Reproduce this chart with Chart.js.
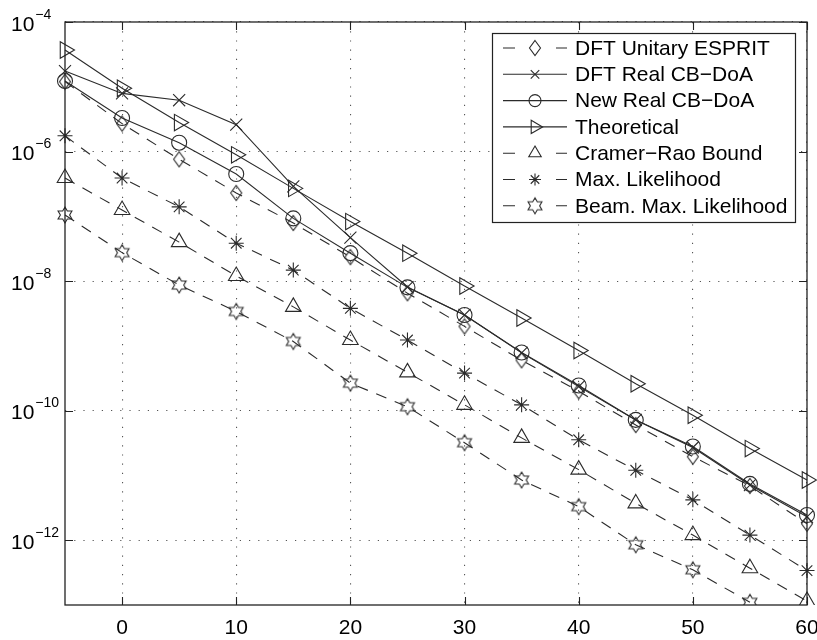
<!DOCTYPE html>
<html>
<head>
<meta charset="utf-8">
<script src="https://cdn.jsdelivr.net/npm/chart.js@4.4.0/dist/chart.umd.min.js"></script>
<style>
html,body{margin:0;padding:0;background:#fff;}
#wrap{width:817px;height:640px;position:relative;}
</style>
</head>
<body>
<div id="wrap"><canvas id="c" width="817" height="640"></canvas></div>
<script>
// ---------- data ----------
const snr = [-5, 0, 5, 10, 15, 20, 25, 30, 35, 40, 45, 50, 55, 60];
const xTicks = [0, 10, 20, 30, 40, 50, 60];
const yTickExps = [-12, -10, -8, -6, -4];
const seriesNames = ['DFT Unitary ESPRIT', 'DFT Real CB\u2212DoA', 'New Real CB\u2212DoA', 'Theoretical', 'Cramer\u2212Rao Bound', 'Max. Likelihood', 'Beam. Max. Likelihood'];
const dftUnitaryEsprit = [1.2e-5, 2.7e-6, 7.6e-7, 2.3e-7, 7.9e-8, 2.35e-8, 6.5e-9, 2.0e-9, 6.0e-10, 2.0e-10, 6.0e-11, 1.95e-11, 6.9e-12, 1.8e-12];
const dftRealCbDoa = [1.75e-5, 7.9e-6, 6.2e-6, 2.6e-6, 2.9e-7, 4.7e-8, 8.1e-9, 3.0e-9, 7.8e-10, 2.35e-10, 7.2e-11, 2.7e-11, 7.1e-12, 2.3e-12];
const newRealCbDoa = [1.23e-5, 3.3e-6, 1.37e-6, 4.5e-7, 9.3e-8, 2.7e-8, 8.0e-9, 3.0e-9, 7.9e-10, 2.45e-10, 7.2e-11, 2.8e-11, 7.4e-12, 2.45e-12];
const theoretical = [3.7e-5, 9.5e-6, 2.8e-6, 8.9e-7, 2.7e-7, 8.3e-8, 2.7e-8, 8.4e-9, 2.7e-9, 8.5e-10, 2.6e-10, 8.5e-11, 2.6e-11, 8.5e-12];
const cramerRao = [3.9e-7, 1.25e-7, 4.0e-8, 1.2e-8, 4.0e-9, 1.23e-9, 3.9e-10, 1.23e-10, 3.8e-11, 1.23e-11, 3.7e-12, 1.2e-12, 3.7e-13, 1.15e-13];
const maxLikelihood = [1.75e-6, 3.9e-7, 1.4e-7, 3.85e-8, 1.48e-8, 3.8e-9, 1.23e-9, 3.8e-10, 1.23e-10, 3.55e-11, 1.2e-11, 4.2e-12, 1.2e-12, 3.4e-13];
const beamMaxLikelihood = [1.05e-7, 2.75e-8, 8.7e-9, 3.4e-9, 1.17e-9, 2.66e-10, 1.15e-10, 3.2e-11, 8.5e-12, 3.3e-12, 8.5e-13, 3.5e-13, 1.1e-13, null];

// ---------- styles ----------
const LC = '#2b2b2b';
const FONT = '"Liberation Sans", Arial, Helvetica, sans-serif';

function makeDiamond() {
  const c = document.createElement('canvas');
  c.width = 14; c.height = 18;
  const g = c.getContext('2d');
  g.strokeStyle = LC; g.lineWidth = 1.1;
  g.beginPath();
  g.moveTo(7, 1.5); g.lineTo(12.5, 9); g.lineTo(7, 16.5); g.lineTo(1.5, 9); g.closePath();
  g.stroke();
  return c;
}
function makeHexagram() {
  const c = document.createElement('canvas');
  c.width = 20; c.height = 20;
  const g = c.getContext('2d');
  g.strokeStyle = LC; g.lineWidth = 1.1;
  const R = 8, r = R / Math.sqrt(3);
  g.beginPath();
  for (let i = 0; i < 12; i++) {
    const a = -Math.PI / 2 + i * Math.PI / 6;
    const rr = (i % 2 === 0) ? R : r;
    const px = 10 + rr * Math.cos(a), py = 10 + rr * Math.sin(a);
    if (i === 0) g.moveTo(px, py); else g.lineTo(px, py);
  }
  g.closePath();
  g.stroke();
  return c;
}
const diamondImg = makeDiamond();
const hexImg = makeHexagram();

const DASH = [11, 9];
const seriesData = [dftUnitaryEsprit, dftRealCbDoa, newRealCbDoa, theoretical, cramerRao, maxLikelihood, beamMaxLikelihood];
const seriesStyle = [
  {dash: true,  pointStyle: diamondImg, radius: 8, rotation: 0},
  {dash: false, pointStyle: 'crossRot', radius: 8.5, rotation: 0},
  {dash: false, pointStyle: 'circle', radius: 7.5, rotation: 0},
  {dash: false, pointStyle: 'triangle', radius: 9.5, rotation: 90},
  {dash: true,  pointStyle: 'triangle', radius: 9, rotation: 0},
  {dash: true,  pointStyle: 'star', radius: 7.5, rotation: 0},
  {dash: true,  pointStyle: hexImg, radius: 8, rotation: 0}
];

const datasets = seriesData.map((arr, i) => ({
  label: seriesNames[i],
  data: snr.map((x, k) => ({x: x, y: arr[k]})),
  borderColor: LC,
  borderWidth: 1.1,
  borderDash: seriesStyle[i].dash ? DASH : [],
  pointStyle: seriesStyle[i].pointStyle,
  pointRadius: seriesStyle[i].radius,
  pointRotation: seriesStyle[i].rotation,
  pointBorderColor: LC,
  pointBackgroundColor: 'rgba(0,0,0,0)',
  pointBorderWidth: 1.1,
  fill: false,
  tension: 0,
  spanGaps: false,
  clip: {left: 14, right: 14, top: 14, bottom: 0}
}));

// ---------- plugins ----------
const framePlugin = {
  id: 'frame',
  afterDraw(chart) {
    const ctx = chart.ctx, a = chart.chartArea;
    const xs = chart.scales.x, ys = chart.scales.y;
    ctx.save();
    // box
    ctx.strokeStyle = '#222'; ctx.lineWidth = 1.3; ctx.setLineDash([]);
    ctx.strokeRect(a.left, a.top, a.right - a.left, a.bottom - a.top);
    // inward ticks
    const TL = 8;
    ctx.lineWidth = 1.1;
    ctx.beginPath();
    xTicks.forEach(v => {
      const px = Math.round(xs.getPixelForValue(v)) + 0.5;
      ctx.moveTo(px, a.bottom); ctx.lineTo(px, a.bottom - TL);
      ctx.moveTo(px, a.top); ctx.lineTo(px, a.top + TL);
    });
    yTickExps.forEach(e => {
      const py = Math.round(ys.getPixelForValue(Math.pow(10, e))) + 0.5;
      ctx.moveTo(a.left, py); ctx.lineTo(a.left + TL, py);
      ctx.moveTo(a.right, py); ctx.lineTo(a.right - TL, py);
    });
    ctx.stroke();
    // x tick labels
    ctx.fillStyle = '#000';
    ctx.font = '21px ' + FONT;
    ctx.textAlign = 'center'; ctx.textBaseline = 'alphabetic';
    xTicks.forEach(v => {
      ctx.fillText(String(v), xs.getPixelForValue(v), a.bottom + 29);
    });
    // y tick labels (10^e)
    ctx.textAlign = 'left';
    yTickExps.forEach(e => {
      const py = ys.getPixelForValue(Math.pow(10, e));
      ctx.font = '21px ' + FONT;
      ctx.fillText('10', 11, py + 8.5);
      const w = ctx.measureText('10').width;
      ctx.font = '14px ' + FONT;
      ctx.fillText('\u2212' + Math.abs(e), 11 + w + 1, py - 3.5);
    });
    // legend
    const L = {x: 492, y: 33, w: 303, h: 189, row0: 48, dy: 26.3};
    ctx.fillStyle = '#fff';
    ctx.fillRect(L.x, L.y, L.w, L.h);
    ctx.strokeStyle = '#222'; ctx.lineWidth = 1.2;
    ctx.strokeRect(L.x + 0.5, L.y + 0.5, L.w, L.h);
    chart.data.datasets.forEach((ds, i) => {
      const cy = L.row0 + i * L.dy;
      const x0 = 503, x1 = 567, cx = 535;
      ctx.strokeStyle = LC; ctx.lineWidth = 1.1; ctx.setLineDash([]);
      ctx.beginPath();
      if (seriesStyle[i].dash) {
        ctx.moveTo(x0, cy); ctx.lineTo(x0 + 12, cy);
        ctx.moveTo(x1 - 11, cy); ctx.lineTo(x1, cy);
      } else {
        ctx.moveTo(x0, cy); ctx.lineTo(x1, cy);
      }
      ctx.stroke();
      ctx.fillStyle = 'rgba(0,0,0,0)';
      const st = seriesStyle[i];
      Chart.helpers.drawPoint(ctx, {
        pointStyle: st.pointStyle,
        radius: st.pointStyle === 'crossRot' ? 6 : (st.radius * 0.8),
        rotation: st.rotation,
        borderWidth: 1.1
      }, cx, cy);
      ctx.fillStyle = '#000';
      ctx.font = '21px ' + FONT;
      ctx.textAlign = 'left'; ctx.textBaseline = 'middle';
      ctx.fillText(ds.label, 575, cy + 1);
    });
    ctx.restore();
  }
};

new Chart(document.getElementById('c'), {
  type: 'line',
  data: {datasets: datasets},
  options: {
    responsive: false,
    animation: false,
    events: [],
    layout: {padding: {left: 65, top: 22, right: 10, bottom: 35}, autoPadding: false},
    plugins: {legend: {display: false}, tooltip: {enabled: false}},
    scales: {
      x: {
        type: 'linear', min: -5, max: 60,
        afterBuildTicks: s => { s.ticks = xTicks.map(v => ({value: v})); },
        ticks: {display: false},
        grid: {color: '#555', lineWidth: 1.1, drawTicks: false},
        border: {display: false, dash: [1.2, 8]}
      },
      y: {
        type: 'logarithmic', min: 1e-13, max: 1e-4,
        afterBuildTicks: s => { s.ticks = yTickExps.map(e => ({value: Math.pow(10, e)})); },
        ticks: {display: false},
        grid: {color: '#555', lineWidth: 1.1, drawTicks: false},
        border: {display: false, dash: [1.2, 8]}
      }
    }
  },
  plugins: [framePlugin]
});
</script>
</body>
</html>
